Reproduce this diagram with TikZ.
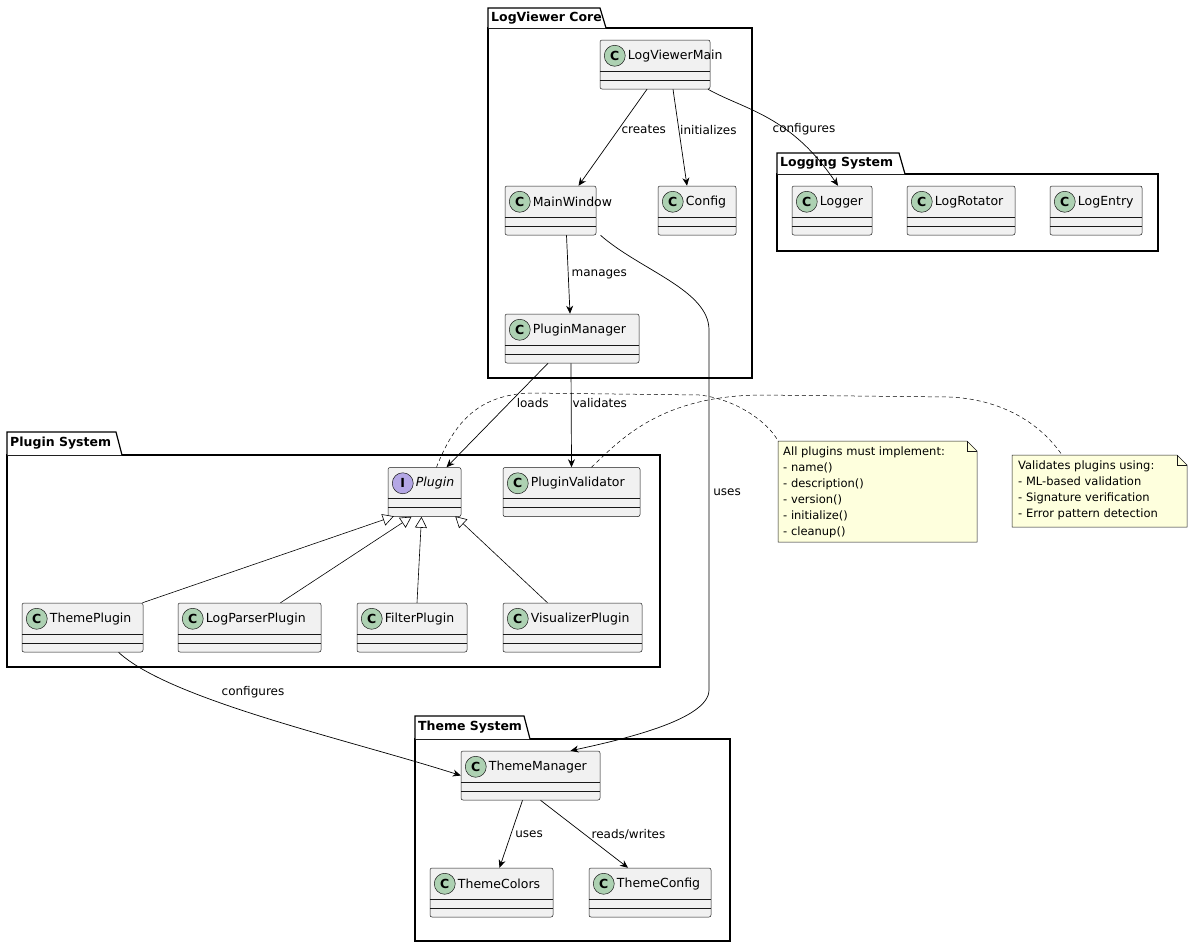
\documentclass[tikz,border=0pt]{standalone}
\usepackage{fontspec}
\setmainfont{DejaVu Sans}
\usetikzlibrary{arrows.meta,calc}
\definecolor{clsfill}{HTML}{F1F1F1}
\definecolor{clsborder}{HTML}{181818}
\definecolor{cgreen}{HTML}{ADD1B2}
\definecolor{ipurple}{HTML}{B4A7E5}
\definecolor{notefill}{HTML}{FEFFDD}
\tikzset{
  cls/.style={draw=clsborder,fill=clsfill,rounded corners=2pt,minimum height=49pt,inner sep=0pt,line width=0.5pt},
  pkg/.style={draw=black,line width=1.2pt,fill=white},
  pkglbl/.style={font=\fontsize{12.5}{14}\selectfont\bfseries,anchor=west,inner sep=0pt},
  lbl/.style={font=\fontsize{12}{14}\selectfont,inner sep=1pt},
  dep/.style={-{Stealth[length=8pt,width=7pt]},line width=0.7pt},
  inh/.style={-{Triangle[open,length=11pt,width=12pt,fill=white]},line width=0.6pt},
  notebox/.style={fill=notefill,draw=clsborder,line width=0.5pt},
  ntext/.style={font=\fontsize{11.5}{16}\selectfont,align=left,anchor=north west,inner sep=0pt},
  nlink/.style={dashed,dash pattern=on 4pt off 3pt,line width=0.5pt}
}
\newcommand{\mycls}[7]{%
  \node[cls,minimum width=#4pt] (#1) at (#2,#3) {};
  \draw[clsborder,line width=0.5pt] ($(#1.north west)+(0,31)$) -- ++(#4,0);
  \draw[clsborder,line width=0.5pt] ($(#1.north west)+(0,40)$) -- ++(#4,0);
  \node[circle,draw=clsborder,fill=#7,minimum size=21pt,inner sep=0pt,line width=0.5pt,
        font=\fontsize{12.5}{14}\selectfont\bfseries] at ($(#1.north west)+(15,16)$) {#6};
  \node[anchor=west,inner sep=0pt,font=\fontsize{12.5}{14}\selectfont] at ($(#1.north west)+(28,16)$) {#5};
}
\begin{document}
\begin{tikzpicture}[x=1pt,y=-1pt]
\useasboundingbox (0,0) rectangle (1193,946);
% packages
\draw[pkg] (488,28) rectangle (752,378);
\draw[pkg] (488,28) -- (488,8) -- (600,8) -- (606,28);
\node[pkglbl] at (491,18) {LogViewer Core};
\draw[pkg] (777,174) rectangle (1158,251);
\draw[pkg] (777,174) -- (777,153) -- (899,153) -- (905,174);
\node[pkglbl] at (780,163) {Logging System};
\draw[pkg] (7,455) rectangle (660,667);
\draw[pkg] (7,455) -- (7,432) -- (116,432) -- (122,455);
\node[pkglbl] at (10,443) {Plugin System};
\draw[pkg] (415,739) rectangle (730,941);
\draw[pkg] (415,739) -- (415,716) -- (524,716) -- (530,739);
\node[pkglbl] at (418,727) {Theme System};
% classes
\mycls{lvm}{655}{64.5}{110}{LogViewerMain}{C}{cgreen}
\mycls{mw}{550.5}{210.5}{91}{MainWindow}{C}{cgreen}
\mycls{cfg}{697}{210.5}{78}{Config}{C}{cgreen}
\mycls{pm}{572}{338.5}{134}{PluginManager}{C}{cgreen}
\mycls{lg}{832}{210.5}{80}{Logger}{C}{cgreen}
\mycls{lr}{961}{210.5}{108}{LogRotator}{C}{cgreen}
\mycls{le}{1096}{210.5}{92}{LogEntry}{C}{cgreen}
\mycls{pl}{424.5}{492}{73}{\itshape Plugin}{I}{ipurple}
\mycls{pv}{571.5}{492}{137}{PluginValidator}{C}{cgreen}
\mycls{tp}{82.5}{627.5}{121}{ThemePlugin}{C}{cgreen}
\mycls{lpp}{249.5}{627.5}{143}{LogParserPlugin}{C}{cgreen}
\mycls{fp}{412}{627.5}{110}{FilterPlugin}{C}{cgreen}
\mycls{vp}{572.5}{627.5}{139}{VisualizerPlugin}{C}{cgreen}
\mycls{tm}{530.5}{775.5}{139}{ThemeManager}{C}{cgreen}
\mycls{tc}{491.5}{892.5}{123}{ThemeColors}{C}{cgreen}
\mycls{tcf}{650}{892.5}{122}{ThemeConfig}{C}{cgreen}
% notes
\coordinate (n1a) at (778,441);
\draw[notebox] (778,441) -- (967,441) -- (977,451) -- (977,542) -- (778,542) -- cycle;
\draw[clsborder,line width=0.5pt] (967,441) -- (967,451) -- (977,451);
\node[ntext] (n1) at (783,447) {All plugins must implement:\\- name()\\- description()\\- version()\\- initialize()\\- cleanup()};
\draw[notebox] (1012,455) -- (1177,455) -- (1187,465) -- (1187,527) -- (1012,527) -- cycle;
\draw[clsborder,line width=0.5pt] (1177,455) -- (1177,465) -- (1187,465);
\node[ntext] (n2) at (1018,461) {Validates plugins using:\\- ML-based validation\\- Signature verification\\- Error pattern detection};
\coordinate (n2top) at (1062,455);
% note links
\draw[nlink] ($(pl.north)+(12,0)$) .. controls (455,420) and (480,395) .. (530,393) -- (700,395) .. controls (740,400) and (770,425) .. (n1a);
\draw[nlink] ($(pv.north)+(20,0)$) .. controls (620,440) and (660,396) .. (760,395) -- (950,397) .. controls (1010,400) and (1045,430) .. (n2top);
% edges
\draw[dep] ($(lvm.south)+(-8,0)$) -- ($(mw.north)+(28,0)$) node[lbl,pos=0.42,right=2pt] {creates};
\draw[dep] ($(lvm.south)+(18,0)$) -- ($(cfg.north)+(-10,0)$) node[lbl,pos=0.42,right=0pt] {initializes};
\draw[dep] ($(lvm.south)+(53,0)$) .. controls (745,110) and (790,115) .. ($(lg.north)+(6,0)$);
\node[lbl] at (804,129) {configures};
\draw[dep] ($(mw.south)+(16,0)$) -- ($(pm.north)+(-2,0)$) node[lbl,midway,right=2pt] {manages};
\draw[dep] ($(mw.south)+(50,0)$) .. controls (640,270) and (709,290) .. (709,330) -- (709,690) .. controls (709,720) and (620,740) .. ($(tm.north)+(40,0)$);
\node[lbl] at (727,492) {uses};
\draw[dep] ($(pm.south)+(-24,0)$) -- ($(pl.north)+(22,0)$) node[lbl,pos=0.38,right=6pt] {loads};
\draw[dep] ($(pm.south)+(-1,0)$) -- (pv.north) node[lbl,pos=0.38,right=0pt] {validates};
\draw[inh] ($(tp.north)+(60,0)$) -- ($(pl.north west)+(6,49)$);
\draw[inh] ($(lpp.north)+(31,0)$) -- ($(pl.south)+(-13,0)$);
\draw[inh] ($(fp.north)+(5,0)$) -- ($(pl.south)+(-3,0)$);
\draw[inh] ($(vp.north)+(-25,0)$) -- ($(pl.north east)+(-6,49)$);
\draw[dep] ($(tp.south)+(36,0)$) .. controls (170,700) and (350,740) .. (tm.west);
\node[lbl] at (253,692) {configures};
\draw[dep] ($(tm.south)+(-8,0)$) -- ($(tc.north)+(8,0)$) node[lbl,midway,right=3pt] {uses};
\draw[dep] ($(tm.south)+(10,0)$) -- ($(tcf.north)+(-22,0)$) node[lbl,midway,right=6pt] {reads/writes};
\end{tikzpicture}
\end{document}
